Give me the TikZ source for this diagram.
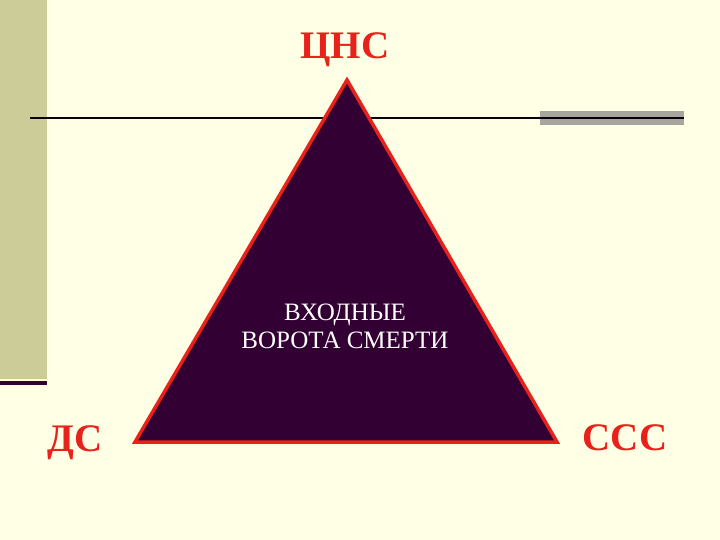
\documentclass[tikz,border=0pt]{standalone}
\usepackage{fontspec}
\setmainfont{Liberation Serif}
\definecolor{bg}{HTML}{FFFFE5}
\definecolor{olive}{HTML}{CCCC99}
\definecolor{dpurple}{HTML}{330033}
\definecolor{tred}{HTML}{E8211B}
\tikzset{lbl/.style={text=tred,font=\bfseries\fontsize{39}{42}\selectfont},
inner/.style={text=white,align=center,font=\fontsize{25}{28}\selectfont}}
\begin{document}
\begin{tikzpicture}[x=1pt,y=-1pt]
\fill[bg] (0,0) rectangle (720,540);
\useasboundingbox (0,0) rectangle (720,540);
\fill[olive] (0,0) rectangle (47,379);
\fill[dpurple] (0,381) rectangle (47,385);
\fill[gray!70!bg] (540,111) rectangle (684,125);
\draw[line width=1.5pt,black!80!dpurple] (30,118) -- (684,118);
\coordinate (apex) at (347,80);
\coordinate (bl) at (135,442);
\coordinate (br) at (557,442);
\draw[fill=dpurple,draw=tred,line width=3.5pt,line join=miter] (apex) -- (bl) -- (br) -- cycle;
\node[lbl] (cns) at (345,50) {ЦНС};
\node[lbl] (ds) at (75,443) {ДС};
\node[lbl] (sss) at (625,438) {ССС};
\node[inner] (t) at (345,326) {ВХОДНЫЕ\\ВОРОТА СМЕРТИ};
\end{tikzpicture}
\end{document}
